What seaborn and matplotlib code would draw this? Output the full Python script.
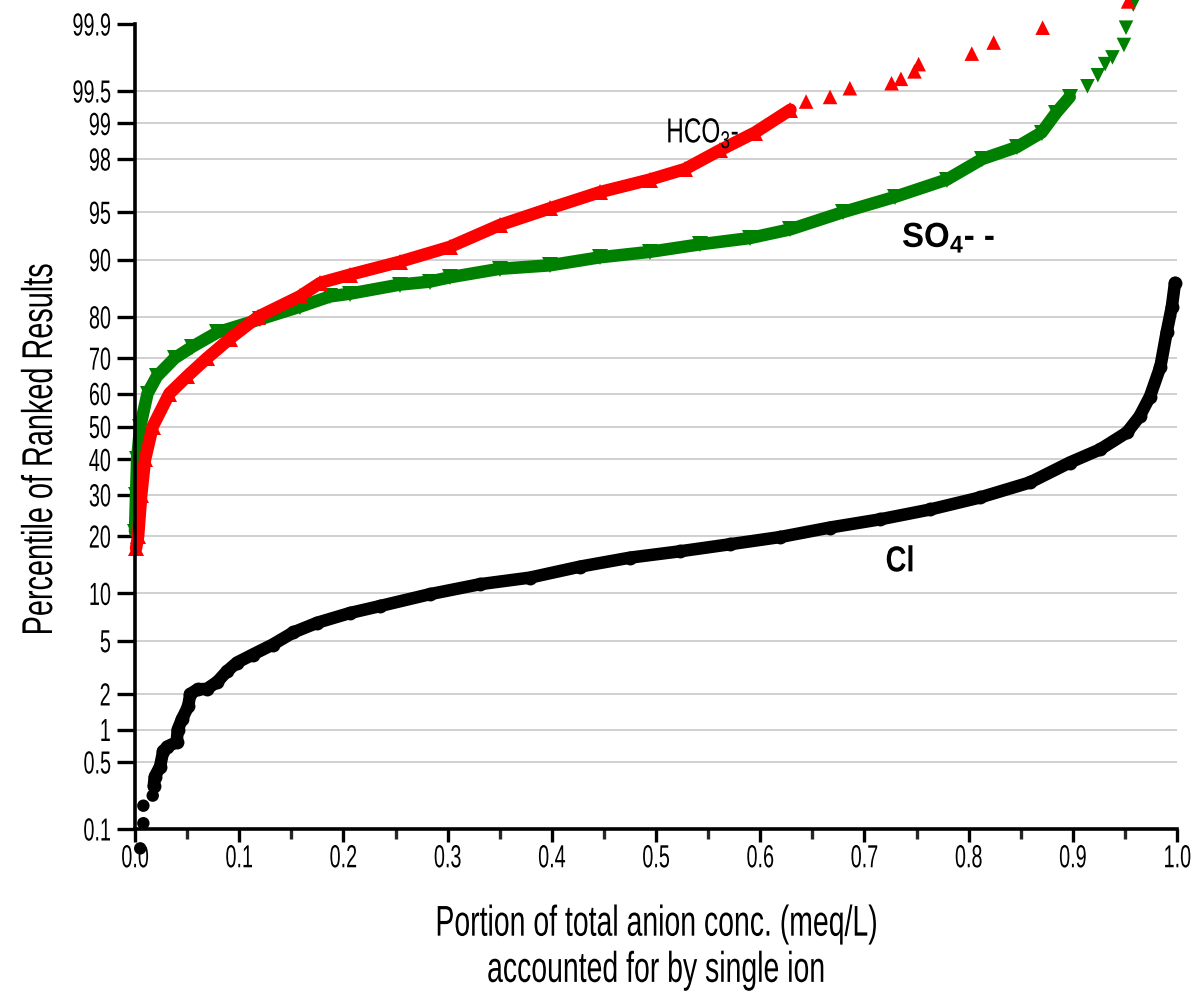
import math
import numpy as np
import seaborn as sns
import matplotlib
matplotlib.use("Agg")
import matplotlib.pyplot as plt
from matplotlib.ticker import FixedLocator, MultipleLocator
from matplotlib.patheffects import AbstractPathEffect
from matplotlib.transforms import Affine2D

# -----------------------------
# Data
# x = portion of total anion conc., p = percentile of ranked results
# -----------------------------
cl_x = [0.018, 0.019, 0.024, 0.027, 0.031, 0.040, 0.041, 0.045, 0.051, 0.053,
        0.060, 0.069, 0.079, 0.088, 0.098, 0.113, 0.132, 0.152, 0.175, 0.206,
        0.235, 0.283, 0.331, 0.379, 0.427, 0.475, 0.523, 0.571, 0.619, 0.667,
        0.715, 0.763, 0.811, 0.859, 0.897, 0.926, 0.952, 0.964, 0.974, 0.984,
        0.990, 0.995, 0.998]
cl_p = [0.29, 0.36, 0.45, 0.63, 0.70, 0.77, 1.0, 1.23, 1.58, 2.0,
        2.18, 2.2, 2.5, 3.0, 3.5, 4.0, 4.7, 5.7, 6.6, 7.6,
        8.4, 9.9, 11.3, 12.3, 14.1, 15.7, 16.9, 18.3, 19.8, 21.9,
        23.8, 26.2, 29.3, 33.4, 39.1, 43.0, 48.2, 53.1, 59.1, 67.7,
        76.5, 82.1, 86.5]
cl_low_x = [0.005, 0.008, 0.008, 0.017]
cl_low_p = [0.06, 0.116, 0.18, 0.23]

hco3_x = [0.001, 0.003, 0.006, 0.0096, 0.017, 0.033, 0.050, 0.069, 0.091, 0.118,
          0.158, 0.178, 0.206, 0.254, 0.302, 0.350, 0.398, 0.446, 0.494, 0.528,
          0.561, 0.595, 0.629]
hco3_p = [17.5, 20.0, 30.0, 40.0, 50.0, 60.0, 65.0, 70.0, 75.0, 80.0,
          84.1, 86.5, 87.8, 89.7, 91.6, 93.9, 95.3, 96.4, 97.1, 97.6,
          98.3, 98.8, 99.25]
hco3_tail_x = [0.644, 0.667, 0.686, 0.726, 0.735, 0.748, 0.752, 0.803, 0.824, 0.871, 0.953]
hco3_tail_p = [99.37, 99.43, 99.53, 99.58, 99.62, 99.68, 99.73, 99.79, 99.84, 99.89, 99.945]

so4_x = [0.000, 0.001, 0.002, 0.005, 0.012, 0.021, 0.038, 0.055, 0.079, 0.120,
         0.158, 0.187, 0.206, 0.254, 0.283, 0.302, 0.350, 0.398, 0.446, 0.494,
         0.542, 0.590, 0.629, 0.679, 0.729, 0.779, 0.813, 0.846, 0.870, 0.884,
         0.897]
so4_p = [21.0, 30.0, 40.0, 50.0, 60.0, 65.0, 70.0, 73.0, 76.5, 79.5,
         82.1, 84.1, 84.6, 86.2, 86.7, 87.4, 88.7, 89.2, 90.3, 91.0,
         91.9, 92.6, 93.5, 95.0, 96.1, 97.1, 98.0, 98.4, 98.8, 99.2,
         99.43]
so4_tail_x = [0.914, 0.924, 0.931, 0.938, 0.949, 0.951, 0.958]
so4_tail_p = [99.55, 99.65, 99.73, 99.77, 99.83, 99.89, 99.94]

y_ticks = [0.1, 0.5, 1, 2, 5, 10, 20, 30, 40, 50, 60, 70, 80, 90, 95, 98, 99, 99.5, 99.9]
y_labels = ["0.1", "0.5", "1", "2", "5", "10", "20", "30", "40", "50", "60",
            "70", "80", "90", "95", "98", "99", "99.5", "99.9"]
x_ticks = [0.0, 0.1, 0.2, 0.3, 0.4, 0.5, 0.6, 0.7, 0.8, 0.9, 1.0]
x_labels = ["0.0", "0.1", "0.2", "0.3", "0.4", "0.5", "0.6", "0.7", "0.8", "0.9", "1.0"]


# -----------------------------
# Normal probability (probit) scale for the y axis
# -----------------------------
A = [-3.969683028665376e+01, 2.209460984245205e+02, -2.759285104469687e+02,
     1.383577518672690e+02, -3.066479806614716e+01, 2.506628277459239e+00]
B = [-5.447609879822406e+01, 1.615858368580409e+02, -1.556989798598866e+02,
     6.680131188771972e+01, -1.328068155288572e+01]
C = [-7.784894002430293e-03, -3.223964580411365e-01, -2.400758277161838e+00,
     -2.549671188687965e+00, 4.374664141464968e+00, 2.938163982698783e+00]
D = [7.784695709041462e-03, 3.224671290700398e-01, 2.445134137142996e+00,
     3.754408661907416e+00]


def _tail(q):
    num = ((((C[0] * q + C[1]) * q + C[2]) * q + C[3]) * q + C[4]) * q + C[5]
    den = (((D[0] * q + D[1]) * q + D[2]) * q + D[3]) * q + 1
    return num / den


def to_z(p):
    shape = np.shape(p)
    q = np.atleast_1d(np.asarray(p, dtype=float)) / 100.0
    q = np.clip(q, 1e-12, 1 - 1e-12)
    out = np.full(q.shape, np.nan)
    lo = q < 0.02425
    hi = q > 1 - 0.02425
    mid = ~(lo | hi) & np.isfinite(q)
    out[lo] = _tail(np.sqrt(-2 * np.log(q[lo])))
    out[hi] = -_tail(np.sqrt(-2 * np.log(1 - q[hi])))
    r = q[mid] - 0.5
    rr = r * r
    num = (((((A[0] * rr + A[1]) * rr + A[2]) * rr + A[3]) * rr + A[4]) * rr + A[5]) * r
    den = ((((B[0] * rr + B[1]) * rr + B[2]) * rr + B[3]) * rr + B[4]) * rr + 1
    out[mid] = num / den
    return out.reshape(shape)


_erf = np.vectorize(math.erf, otypes=[float])


def from_z(z):
    z = np.asarray(z, dtype=float)
    return 50.0 * (1.0 + _erf(z / math.sqrt(2)))


# narrow lettering like the original (condensed font is not installed)
class Squeeze(AbstractPathEffect):
    def __init__(self, sx, anchor="center"):
        super().__init__()
        self.sx = sx
        self.anchor = anchor

    def draw_path(self, renderer, gc, tpath, affine, rgbFace=None):
        ext = tpath.get_extents()
        if self.anchor == "left":
            x0 = ext.x0
        elif self.anchor == "right":
            x0 = ext.x1
        else:
            x0 = 0.5 * (ext.x0 + ext.x1)
        sq = Affine2D().translate(-x0, 0).scale(self.sx, 1).translate(x0, 0)
        renderer.draw_path(gc, tpath, sq + affine, rgbFace)


# -----------------------------
# Style
# -----------------------------
sns.set_theme(style="white")
plt.rcParams["font.family"] = ["Liberation Sans", "DejaVu Sans"]
plt.rcParams["mathtext.fontset"] = "custom"
plt.rcParams["mathtext.rm"] = "Liberation Sans"
plt.rcParams["mathtext.bf"] = "Liberation Sans:bold"

fig = plt.figure(figsize=(11.99, 10), dpi=100)
ax = fig.add_axes([0.1126, 0.171, 0.8691, 0.805])
ax.set_yscale("function", functions=(to_z, from_z))

# -----------------------------
# Series
# -----------------------------
line_kw = dict(ax=ax, sort=False, estimator=None, lw=9, clip_on=False,
               solid_capstyle="round", solid_joinstyle="round", markeredgewidth=0)

sns.lineplot(x=so4_x, y=so4_p, color="#008000", marker="v", markersize=12,
             markeredgecolor="#008000", **line_kw)
sns.scatterplot(x=so4_tail_x, y=so4_tail_p, color="#008000", marker="v", s=110,
                edgecolor="none", ax=ax, clip_on=False, legend=False)

sns.lineplot(x=hco3_x, y=hco3_p, color="#ff0000", marker="^", markersize=12,
             markeredgecolor="#ff0000", **line_kw)
sns.scatterplot(x=hco3_tail_x, y=hco3_tail_p, color="#ff0000", marker="^", s=110,
                edgecolor="none", ax=ax, clip_on=False, legend=False)

sns.lineplot(x=cl_x, y=cl_p, color="black", marker="o", markersize=10,
             markeredgecolor="black", **line_kw)
sns.scatterplot(x=cl_low_x, y=cl_low_p, color="black", marker="o", s=80,
                edgecolor="none", ax=ax, clip_on=False, legend=False)

# -----------------------------
# Axes
# -----------------------------
ax.set_xlim(0, 1)
ax.set_ylim(0.1, 99.9)

ax.yaxis.set_major_locator(FixedLocator(y_ticks))
ax.yaxis.set_minor_locator(FixedLocator([]))
ax.set_yticklabels(y_labels)
ax.xaxis.set_major_locator(FixedLocator(x_ticks))
ax.xaxis.set_minor_locator(MultipleLocator(0.05))
ax.set_xticklabels(x_labels)

ax.grid(axis="y", color="#c8c8c8", lw=1.2)
ax.set_axisbelow(True)
ygl = ax.get_ygridlines()
ygl[0].set_visible(False)
ygl[-1].set_visible(False)

for side in ["top", "right"]:
    ax.spines[side].set_visible(False)
for side in ["left", "bottom"]:
    ax.spines[side].set_linewidth(2.6)
    ax.spines[side].set_color("black")

ax.tick_params(axis="y", which="major", length=13, width=2.4, direction="out",
               left=True, labelsize=23, pad=4, colors="black")
ax.tick_params(axis="x", which="major", length=9, width=2.4, direction="out",
               bottom=True, labelsize=23, pad=2, colors="black")
ax.tick_params(axis="x", which="minor", length=7, width=2.4, direction="out",
               bottom=True)

for lab in ax.get_yticklabels():
    lab.set_path_effects([Squeeze(0.62, "right")])
for lab in ax.get_xticklabels():
    lab.set_path_effects([Squeeze(0.62, "center")])

ax.set_xlabel("Portion of total anion conc. (meq/L)\naccounted for by single ion",
              fontsize=31, color="black", linespacing=1.2,
              path_effects=[Squeeze(0.66, "center")])
ax.set_ylabel("Percentile of Ranked Results", fontsize=31, color="black",
              path_effects=[Squeeze(0.67, "center")])
ax.xaxis.set_label_coords(0.5, -0.094)
ax.yaxis.set_label_coords(-0.071, 0.471)

# -----------------------------
# Series labels
# -----------------------------
ax.text(0.509, 98.54, r"HCO$_\mathrm{3}$-", fontsize=25, color="black",
        ha="left", va="baseline", path_effects=[Squeeze(0.70, "left")])
ax.text(0.736, 91.6, r"SO$_\mathbf{4}$- -", fontsize=25, fontweight="bold",
        color="black", ha="left", va="baseline", path_effects=[Squeeze(0.95, "left")])
ax.text(0.720, 13.3, "Cl", fontsize=26, fontweight="bold", color="black",
        ha="left", va="baseline", path_effects=[Squeeze(0.8, "left")])

plt.savefig("out.png", dpi=100)
